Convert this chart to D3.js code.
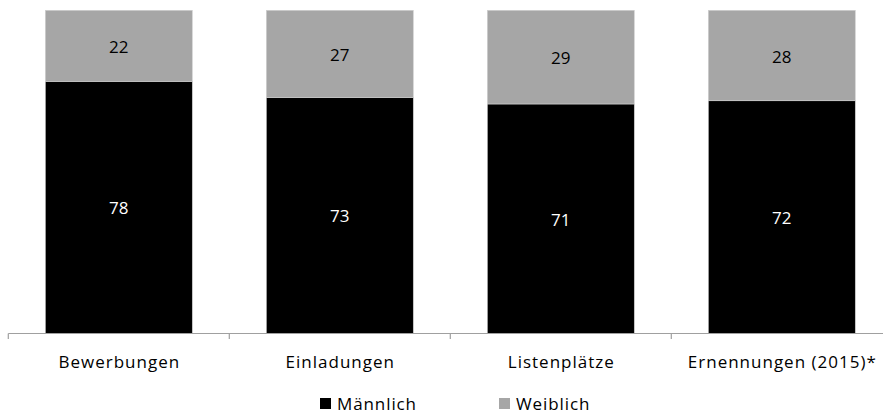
<!DOCTYPE html>
<html><head><meta charset="utf-8">
<script src="https://cdn.jsdelivr.net/npm/d3@7"></script>
<style>body{margin:0;background:#fff}svg{display:block}text{font-family:"Open Sans",sans-serif}</style>
</head><body><svg id="c" width="883" height="413"></svg>
<script>
const categories = ["Bewerbungen","Einladungen","Listenplätze","Ernennungen (2015)*"];
const maennlich = [78,73,71,72];
const weiblich = [22,27,29,28];
const seriesNames = ["Männlich","Weiblich"];
const colors = ["#000000","#a6a6a6"];
const labelColors = ["#ffffff","#000000"];

const svg = d3.select("#c");
const left = 8.3, step = 221;
const x = d3.scaleBand().domain(categories).range([left, left + step*categories.length]).paddingInner(0.335).paddingOuter(0.1675);
const y = d3.scaleLinear().domain([0,100]).range([333.3,10.3]);

const rows = categories.map((c,i)=>({cat:c, "Männlich":maennlich[i], "Weiblich":weiblich[i]}));
const stack = d3.stack().keys(seriesNames)(rows);

stack.forEach((s,si)=>{
  const g = svg.append("g");
  g.selectAll("rect").data(s).join("rect")
    .attr("x", d=>x(d.data.cat)).attr("width", x.bandwidth())
    .attr("y", d=>y(d[1])).attr("height", d=>y(d[0])-y(d[1]))
    .attr("fill", colors[si]).attr("stroke","#cfcfcf").attr("stroke-width",0.6);
  g.selectAll("text").data(s).join("text")
    .attr("x", d=>x(d.data.cat)+x.bandwidth()/2)
    .attr("y", d=>(y(d[0])+y(d[1]))/2+7)
    .attr("text-anchor","middle").attr("font-size",17).attr("fill",labelColors[si])
    .text(d=>d[1]-d[0]);
});

// axis
const ax = svg.append("g");
ax.append("line").attr("x1",left).attr("x2",883).attr("y1",333.5).attr("y2",333.5).attr("stroke","#a0a0a0").attr("stroke-width",1.2);
const ticks = d3.range(categories.length+1).map(i=>left+i*step);
ax.selectAll("line.t").data(ticks).join("line").attr("class","t")
  .attr("x1",d=>d).attr("x2",d=>d).attr("y1",333.5).attr("y2",339).attr("stroke","#a0a0a0").attr("stroke-width",1.2);
ax.selectAll("text").data(categories).join("text")
  .attr("x",d=>x(d)+x.bandwidth()/2+0.5).attr("y",368)
  .attr("text-anchor","middle").attr("font-size",17).attr("fill","#000").attr("letter-spacing",1.0)
  .text(d=>d);

// legend
const legX = [320, 499];
const lg = svg.append("g");
seriesNames.forEach((n,i)=>{
  lg.append("rect").attr("x",legX[i]).attr("y",398).attr("width",11).attr("height",11).attr("fill",colors[i]);
  lg.append("text").attr("x",legX[i]+17).attr("y",409.5).attr("font-size",17).attr("letter-spacing",0.9).text(n);
});
</script></body></html>
